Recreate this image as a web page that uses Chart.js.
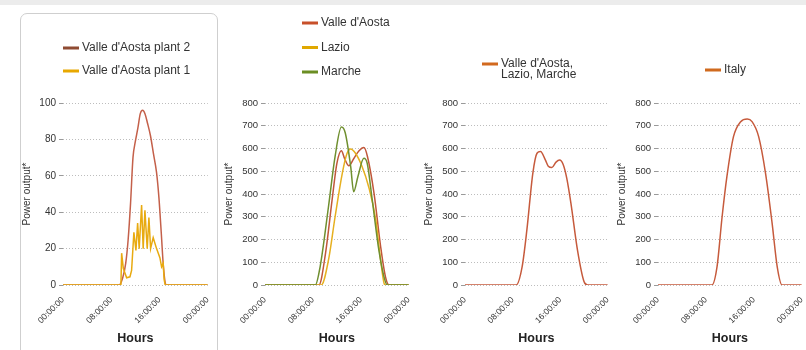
<!DOCTYPE html>
<html>
<head>
<meta charset="utf-8">
<script src="https://cdn.jsdelivr.net/npm/chart.js@4.4.1/dist/chart.umd.min.js"></script>
<style>
  html, body { margin: 0; padding: 0; }
  body { width: 806px; height: 350px; position: relative; overflow: hidden; background: #fff; }
  .topband { position: absolute; left: 0; top: 0; width: 806px; height: 5px; background: #ececec; }
  .card { position: absolute; left: 20px; top: 13px; width: 196px; height: 360px; border: 1px solid #cfcfcf; border-radius: 7px; }
  .panel { position: absolute; top: 0; height: 347px; }
</style>
</head>
<body>
<div class="topband"></div>
<div class="card"></div>
<div class="panel" style="left:21px;width:196px"><canvas id="c1"></canvas></div>
<div class="panel" style="left:223px;width:195px"><canvas id="c2"></canvas></div>
<div class="panel" style="left:423px;width:194px"><canvas id="c3"></canvas></div>
<div class="panel" style="left:616px;width:195px"><canvas id="c4"></canvas></div>
<script>
// hour of day (x) and power output (y)
const hourTicks = [0, 8, 16, 24];

const plant2Hours = [0, 9.3, 9.9, 10.4, 10.8, 11.2, 11.6, 12.0, 12.4, 12.8, 13.2, 13.6, 14.0, 14.5, 15.0, 15.5, 15.9, 16.3, 16.6, 16.9, 17.1, 24];
const plant2Power = [0, 0, 4, 12, 25, 45, 70, 79, 86, 94, 96, 94, 89, 82, 72, 62, 48, 28, 12, 2, 0, 0];

const plant1Hours = [0, 9.6, 9.72, 10.0, 10.55, 11.1, 11.37, 11.75, 12.09, 12.37, 12.63, 13.03, 13.29, 13.58, 13.96, 14.24, 14.52, 14.95, 15.51, 16.06, 16.34, 16.6, 16.77, 16.94, 24];
const plant1Power = [0, 0, 17.5, 9, 4, 4.5, 8, 29, 19, 34, 20, 44, 20, 41, 20, 37, 20, 26, 20, 15, 10, 12, 3, 0, 0];

const valleHours = [0, 9.0, 10.1, 11.2, 12.0, 12.75, 13.3, 14.0, 14.8, 15.7, 16.5, 17.1, 18.2, 19.3, 20.1, 20.7, 24];
const vallePower = [0, 0, 139, 374, 535, 590, 555, 524, 555, 590, 604, 565, 403, 169, 37, 0, 0];

const lazioHours = [0, 9.4, 10.6, 11.7, 12.9, 13.7, 14.3, 15.1, 16.2, 17.3, 18.5, 19.3, 19.9, 20.1, 24];
const lazioPower = [0, 0, 110, 300, 491, 579, 598, 579, 521, 432, 286, 110, 5, 0, 0];

const marcheHours = [0, 8.4, 9.2, 10.6, 11.7, 12.75, 13.4, 14.3, 14.8, 15.5, 16.5, 17.06, 17.9, 19.0, 19.85, 20.4, 24];
const marchePower = [0, 0, 80, 345, 565, 694, 668, 521, 410, 476, 557, 535, 374, 154, 37, 0, 0];

const sumHours = [0, 8.6, 9.6, 10.4, 11.4, 12.1, 12.7, 13.5, 14.0, 14.6, 15.3, 15.9, 16.5, 17.1, 17.8, 18.9, 20.0, 20.6, 24];
const sumPower = [0, 0, 80, 242, 491, 579, 587, 550, 522, 516, 540, 549, 530, 470, 360, 154, 15, 0, 0];

const italyHours = [0, 9.0, 9.85, 10.7, 11.5, 12.6, 13.8, 14.9, 15.7, 16.8, 17.95, 19.05, 19.9, 20.7, 24];
const italyPower = [0, 0, 80, 300, 476, 652, 718, 730, 718, 652, 491, 271, 80, 0, 0];

const pts = (hs, ps) => hs.map((h, i) => ({ x: h, y: ps[i] }));
const FONT = "'Liberation Sans', Arial, sans-serif";

// legend drawn as a left aligned list above the plot
const listLegend = {
  id: 'listLegend',
  afterDraw(chart, args, opts) {
    const { ctx, chartArea } = chart;
    ctx.save();
    ctx.font = '12px ' + FONT;
    ctx.textBaseline = 'middle';
    let y = chartArea.top + opts.dy;
    const x = chartArea.left + opts.dx;
    chart.data.datasets.forEach(ds => {
      const lines = ds.label.split('\n');
      ctx.fillStyle = ds.backgroundColor;
      ctx.fillRect(x, y - 1.5, 16, 3);
      ctx.fillStyle = '#333';
      lines.forEach((t, i) => ctx.fillText(t, x + 19, y + i * 11));
      y += opts.gap + (lines.length - 1) * 11;
    });
    ctx.restore();
  }
};

function makeChart(id, datasets, yMax, yStep, tickSize, legend) {
  new Chart(document.getElementById(id), {
    type: 'line',
    data: { datasets },
    plugins: [listLegend],
    options: {
      responsive: true,
      maintainAspectRatio: false,
      animation: false,
      layout: { padding: { top: 103, right: 0, left: 0, bottom: 0 } },
      elements: { point: { radius: 0 }, line: { borderWidth: 1.5 } },
      plugins: {
        legend: { display: false },
        tooltip: { enabled: false },
        listLegend: legend
      },
      scales: {
        x: {
          type: 'linear', min: 0, max: 24,
          afterBuildTicks: s => { s.ticks = hourTicks.map(v => ({ value: v })); },
          afterFit: s => { s.height = 62; },
          grid: { display: false },
          border: { display: false },
          ticks: {
            autoSkip: false, maxRotation: 45, minRotation: 45, padding: 2,
            color: '#333', font: { family: FONT, size: 8.5 },
            callback: v => String(v % 24).padStart(2, '0') + ':00:00'
          },
          title: { display: true, text: 'Hours', color: '#222', font: { family: FONT, size: 12.5, weight: 'bold' }, padding: { top: 0, bottom: 1 } }
        },
        y: {
          min: 0, max: yMax,
          afterFit: s => { s.width = 42; },
          border: { display: false, dash: [1, 2] },
          grid: { color: '#bdbdbd', tickColor: '#9a9a9a', tickLength: 4, tickBorderDash: [] },
          ticks: { stepSize: yStep, padding: 3, color: '#333', font: { family: FONT, size: tickSize } },
          title: { display: true, text: 'Power output*', color: '#333', font: { family: FONT, size: 10 }, padding: { top: 0, bottom: 0 } }
        }
      }
    }
  });
}

makeChart('c1', [
  { label: "Valle d'Aosta plant 2", data: pts(plant2Hours, plant2Power), borderColor: '#c4604a', backgroundColor: '#8f4b32', tension: 0.3, cubicInterpolationMode: 'monotone', order: 1 },
  { label: "Valle d'Aosta plant 1", data: pts(plant1Hours, plant1Power), borderColor: '#e8aa10', backgroundColor: '#e8a800', tension: 0, order: 0 }
], 100, 20, 10, { dx: 0, dy: -55, gap: 23 });

makeChart('c2', [
  { label: "Valle d'Aosta", data: pts(valleHours, vallePower), borderColor: '#c0573a', backgroundColor: '#c8502a', cubicInterpolationMode: 'monotone', order: 2 },
  { label: 'Lazio', data: pts(lazioHours, lazioPower), borderColor: '#e6b020', backgroundColor: '#e0a800', cubicInterpolationMode: 'monotone', order: 1 },
  { label: 'Marche', data: pts(marcheHours, marchePower), borderColor: '#6f8f2f', backgroundColor: '#6b8e23', cubicInterpolationMode: 'monotone', order: 0 }
], 800, 100, 9.5, { dx: 37, dy: -80, gap: 24.5 });

makeChart('c3', [
  { label: "Valle d'Aosta,\nLazio, Marche", data: pts(sumHours, sumPower), borderColor: '#c65a3c', backgroundColor: '#d2691e', cubicInterpolationMode: 'monotone' }
], 800, 100, 9.5, { dx: 17, dy: -39, gap: 24 });

makeChart('c4', [
  { label: 'Italy', data: pts(italyHours, italyPower), borderColor: '#c65a3c', backgroundColor: '#d06a1e', cubicInterpolationMode: 'monotone' }
], 800, 100, 9.5, { dx: 47, dy: -33, gap: 24 });
</script>
</body>
</html>
